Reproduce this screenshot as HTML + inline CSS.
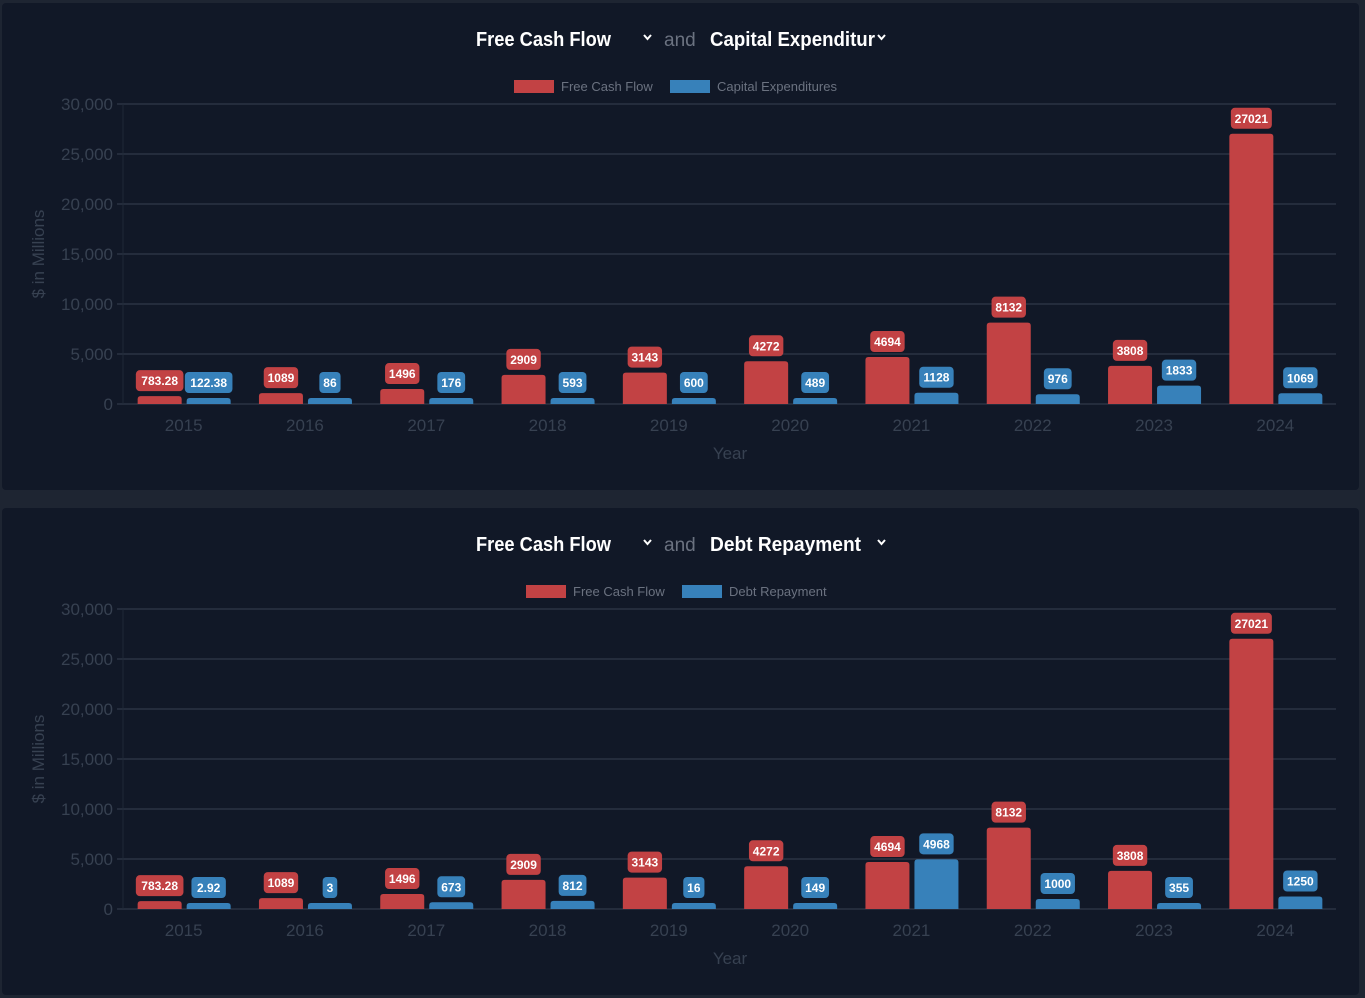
<!DOCTYPE html>
<html><head><meta charset="utf-8"><style>
body{margin:0;width:1365px;height:998px;background:#1e2532;overflow:hidden;font-family:"Liberation Sans",sans-serif}
.card{position:absolute;left:2px;width:1357px;height:487px;background:#111827;border-radius:4px}
svg{position:absolute;left:0;top:0}
</style></head><body>
<div class="card" style="top:3px"></div>
<div class="card" style="top:508px"></div>
<svg id="s" width="1365" height="998"></svg>
<script>
const years=["2015","2016","2017","2018","2019","2020","2021","2022","2023","2024"];
const fcf=[783.28,1089,1496,2909,3143,4272,4694,8132,3808,27021];
const capex=[122.38,86,176,593,600,489,1128,976,1833,1069];
const debt=[2.92,3,673,812,16,149,4968,1000,355,1250];
const yTicks=[0,5000,10000,15000,20000,25000,30000];
const tickLabels=["0","5,000","10,000","15,000","20,000","25,000","30,000"];
const NS="http://www.w3.org/2000/svg";
const svg=document.getElementById('s');
function mk(t,a,txt){const e=document.createElementNS(NS,t);for(const k in a)e.setAttribute(k,a[k]);if(txt!==undefined)e.textContent=txt;svg.appendChild(e);return e;}
function fmtVal(v){return String(v);}
function chart(off,second,name2,vals2,key){
  const L=123,R=1336,y0=404+off,y30=104+off;
  const ys=v=>y0-(v/30000)*(y0-y30);
  const cw=(R-L)/years.length;
  const xc=i=>L+cw*(i+0.5);
  let t=mk('text',{x:476,y:46+off,fill:'#fff','font-size':20,'font-weight':'bold',textLength:135,lengthAdjust:'spacingAndGlyphs'},'Free Cash Flow');
  
  t=mk('polyline',{points:`644,35 ${647.5},${39+off-0} 651,35`.replace(/35/g,35+off),fill:'none',stroke:'#fff','stroke-width':2});
  
  t=mk('text',{x:664,y:46+off,fill:'#6b7280','font-size':19},'and');
  
  t=mk('text',{x:710,y:46+off,fill:'#fff','font-size':20,'font-weight':'bold',textLength:second.length>15?165:151,lengthAdjust:'spacingAndGlyphs'},second);
  
  t=mk('polyline',{points:`878,${35+off} 881.5,${39+off} 885,${35+off}`,fill:'none',stroke:'#fff','stroke-width':2});
  
  const lx=key==='capex'?514:526;
  let r=mk('rect',{x:lx,y:80+off,width:40,height:13,fill:'#c24244'});
  
  t=mk('text',{x:lx+47,y:91+off,fill:'#6b7280','font-size':13},'Free Cash Flow');
  
  const lx2=key==='capex'?670:682;
  r=mk('rect',{x:lx2,y:80+off,width:40,height:13,fill:'#3781ba'});
  
  t=mk('text',{x:lx2+47,y:91+off,fill:'#6b7280','font-size':13},name2);
  
  yTicks.forEach((v,i)=>{const y=ys(v);
    const g=mk('line',{x1:117,x2:R,y1:y,y2:y,stroke:'#374151','stroke-width':1});
    
    const tl=mk('text',{x:113,y:y+6,fill:'#374151','font-size':17,'text-anchor':'end'},tickLabels[i]);
    
  });
  const ax=mk('line',{x1:L,x2:L,y1:y30,y2:y0,stroke:'#1f2937'});
  
  t=mk('text',{x:0,y:0,fill:'#374151','font-size':17,'text-anchor':'middle',transform:`translate(44,${254+off}) rotate(-90)`},'$ in Millions');
  
  t=mk('text',{x:730,y:459+off,fill:'#374151','font-size':17,'text-anchor':'middle'},'Year');
  
  years.forEach((yr,i)=>{
    const xl=mk('text',{x:xc(i),y:431+off,fill:'#374151','font-size':17,'text-anchor':'middle'},yr);
    
    [[fcf[i],-46,'#c24244','fcf'],[vals2[i],3,'#3781ba',key]].forEach(([v,dx,c,k])=>{
      const h=Math.max(y0-ys(v),6);const x=xc(i)+dx;
      const b=mk('path',{d:`M${x},${y0}V${y0-h+3}q0,-3 3,-3h38q3,0 3,3V${y0}Z`,fill:c});
      
      const s=fmtVal(v);const w=s.length*6.6+8;const cx=x+22;const lb=y0-h-5;
      const lr=mk('rect',{x:cx-w/2,y:lb-21,width:w,height:21,rx:4,fill:c});
      
      const lt=mk('text',{x:cx,y:lb-6,fill:'#fff','font-size':12,'font-weight':'bold','text-anchor':'middle'},s);
      
    });
  });
}
chart(0,'Capital Expenditur','Capital Expenditures',capex,'capex');
chart(505,'Debt Repayment','Debt Repayment',debt,'debt');
</script>
</body></html>
